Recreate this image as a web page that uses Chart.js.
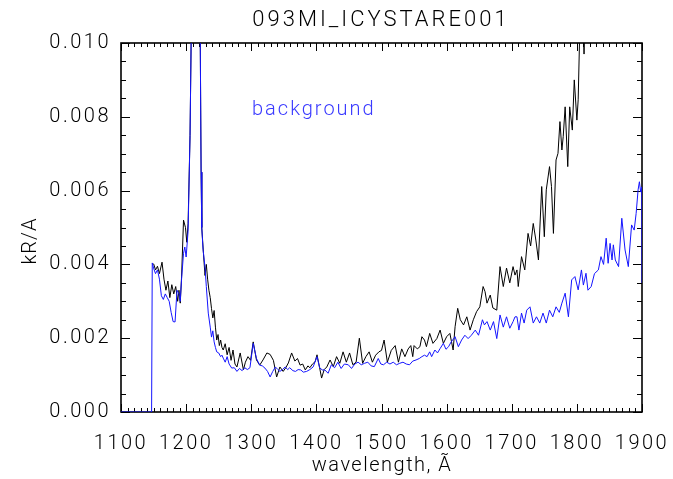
<!DOCTYPE html>
<html>
<head>
<meta charset="utf-8">
<script src="https://cdn.jsdelivr.net/npm/chart.js@4/dist/chart.umd.min.js"></script>
<style>
  html, body { margin: 0; padding: 0; background: #fff; }
  #wrap { width: 673px; height: 479px; }
</style>
</head>
<body>
<div id="wrap"><canvas id="spec"></canvas></div>
<script>
// 093MI_ICYSTARE001 spectrum vs background

const titleText = "093MI_ICYSTARE001";
const xTitle = "wavelength, \u00C3";
const yTitle = "kR/A";
const bgLabel = "background";

// observation (black), wavelength in A, brightness in kR/A
const obsWave = [
1150,1153,1156,1159,1163,1166,1169,1172,1175,1178,1181,1184,1187,1189,1191,1193,1196,1199,1201,1203,
1206,1209,1216,1221,1223,1224,1227,1229,1231,1233,1235,1237,1239,1241,1243,1245,1247,1249,1251,1253,
1255,1257,1260,1263,1266,1269,1272,1275,1278,1283,1288,1291,1295,1299,1303,1308,1313,1318,1324,1329,
1334,1339,1344,1349,1353,1357,1362,1367,1371,1375,1379,1383,1387,1390,1394,1398,1401,1405,1408,1412,
1416,1421,1426,1431,1436,1441,1446,1451,1456,1461,1466,1471,1476,1481,1486,1491,1496,1500,1504,1509,
1515,1521,1526,1531,1536,1541,1545,1548,1550,1555,1559,1562,1566,1569,1574,1579,1585,1590,1595,1600,
1605,1610,1613,1617,1621,1626,1631,1636,1641,1646,1651,1656,1659,1662,1667,1671,1677,1682,1687,1692,
1697,1702,1705,1708,1710,1715,1720,1725,1729,1733,1737,1741,1746,1750,1753,1758,1761,1764,1768,1771,
1774,1777,1779,1782,1786,1789,1793,1796,1800,1802,1805,1808,1811,1814,1820
];
const obsFlux = [
0.00402,0.00385,0.00395,0.00375,0.00406,0.00360,0.00330,0.00355,0.00310,0.00345,0.00320,0.00340,0.00300,0.00330,0.00295,0.00366,0.00520,0.00500,0.00460,0.00510,
0.00750,0.01200,0.03000,0.01200,0.00650,0.00500,0.00420,0.00370,0.00400,0.00360,0.00330,0.00310,0.00280,0.00255,0.00275,0.00230,0.00195,0.00210,0.00180,0.00195,
0.00175,0.00168,0.00185,0.00155,0.00175,0.00140,0.00168,0.00130,0.00122,0.00160,0.00114,0.00135,0.00150,0.00140,0.00190,0.00141,0.00127,0.00141,0.00160,0.00156,
0.00140,0.00095,0.00122,0.00110,0.00120,0.00133,0.00160,0.00138,0.00145,0.00127,0.00130,0.00114,0.00125,0.00120,0.00130,0.00136,0.00155,0.00120,0.00092,0.00115,
0.00122,0.00141,0.00123,0.00150,0.00132,0.00163,0.00135,0.00160,0.00128,0.00135,0.00200,0.00132,0.00150,0.00163,0.00135,0.00154,0.00163,0.00167,0.00195,0.00135,
0.00167,0.00180,0.00135,0.00171,0.00150,0.00171,0.00180,0.00150,0.00180,0.00171,0.00177,0.00204,0.00195,0.00177,0.00213,0.00186,0.00199,0.00222,0.00186,0.00204,
0.00213,0.00168,0.00231,0.00281,0.00250,0.00236,0.00258,0.00222,0.00250,0.00272,0.00285,0.00340,0.00326,0.00295,0.00317,0.00282,0.00276,0.00394,0.00340,0.00390,
0.00350,0.00394,0.00371,0.00385,0.00340,0.00421,0.00385,0.00484,0.00450,0.00511,0.00466,0.00412,0.00611,0.00475,0.00602,0.00665,0.00611,0.00484,0.00683,0.00701,
0.00787,0.00710,0.00746,0.00827,0.00665,0.00827,0.00764,0.00900,0.00791,0.00846,0.01080,0.01200,0.00970,0.01200,0.01300
];

// background (blue)
const bgWave = [
1100,1147,1148,1150,1153,1156,1159,1162,1165,1168,1171,1174,1177,1180,1183,1186,1189,1191,1193,1196,
1198,1200,1203,1206,1209,1216,1221,1223,1224,1226,1229,1231,1234,1237,1239,1241,1243,1245,1247,1250,
1253,1255,1257,1260,1263,1266,1270,1274,1278,1282,1286,1290,1294,1298,1303,1308,1313,1317,1321,1325,
1329,1333,1337,1341,1344,1348,1352,1356,1359,1364,1368,1372,1376,1380,1385,1390,1395,1401,1405,1409,
1413,1418,1423,1428,1433,1438,1443,1449,1454,1459,1464,1469,1474,1479,1484,1489,1495,1499,1503,1508,
1513,1518,1523,1528,1533,1538,1543,1548,1553,1558,1562,1566,1570,1574,1577,1582,1586,1590,1595,1599,
1603,1607,1613,1618,1623,1628,1633,1638,1644,1649,1655,1658,1662,1667,1672,1677,1682,1687,1692,1697,
1702,1705,1708,1711,1715,1719,1723,1728,1733,1738,1743,1748,1753,1758,1763,1768,1773,1777,1782,1787,
1792,1797,1802,1807,1810,1814,1817,1822,1827,1833,1837,1841,1845,1848,1851,1854,1856,1859,1864,1869,
1874,1879,1884,1888,1891,1894,1896,1898,1899.6,1900
];
const bgFlux = [
0.00000,0.00000,0.00404,0.00390,0.00375,0.00385,0.00360,0.00315,0.00305,0.00320,0.00310,0.00300,0.00270,0.00245,0.00244,0.00330,0.00320,0.00300,0.00360,0.00430,
0.00447,0.00420,0.00490,0.00750,0.01200,0.03500,0.01200,0.00650,0.00500,0.00440,0.00393,0.00340,0.00268,0.00230,0.00203,0.00220,0.00190,0.00175,0.00163,0.00160,
0.00150,0.00154,0.00146,0.00135,0.00150,0.00130,0.00119,0.00120,0.00110,0.00118,0.00112,0.00120,0.00115,0.00120,0.00186,0.00145,0.00127,0.00125,0.00119,0.00110,
0.00095,0.00110,0.00122,0.00115,0.00110,0.00115,0.00122,0.00115,0.00120,0.00112,0.00110,0.00115,0.00114,0.00108,0.00110,0.00115,0.00122,0.00150,0.00120,0.00114,
0.00114,0.00105,0.00128,0.00120,0.00135,0.00118,0.00130,0.00128,0.00118,0.00130,0.00135,0.00128,0.00132,0.00135,0.00125,0.00123,0.00145,0.00130,0.00128,0.00135,
0.00130,0.00135,0.00128,0.00132,0.00135,0.00130,0.00128,0.00138,0.00141,0.00145,0.00150,0.00154,0.00150,0.00163,0.00150,0.00168,0.00160,0.00172,0.00186,0.00170,
0.00177,0.00190,0.00204,0.00177,0.00195,0.00208,0.00199,0.00208,0.00222,0.00208,0.00250,0.00236,0.00245,0.00222,0.00245,0.00199,0.00263,0.00230,0.00258,0.00227,
0.00245,0.00258,0.00258,0.00222,0.00268,0.00241,0.00276,0.00285,0.00241,0.00258,0.00241,0.00268,0.00241,0.00276,0.00258,0.00285,0.00270,0.00295,0.00322,0.00258,
0.00358,0.00367,0.00331,0.00385,0.00344,0.00376,0.00330,0.00340,0.00375,0.00385,0.00421,0.00400,0.00471,0.00403,0.00457,0.00412,0.00453,0.00412,0.00394,0.00525,
0.00439,0.00394,0.00507,0.00493,0.00538,0.00602,0.00624,0.00596,0.00610,0.00350
];

// axis ticks
const xMin = 1100, xMax = 1900, xStep = 100, xMinor = 10;
const yMin = 0, yMax = 0.010, yStep = 0.002, yMinorCount = 20;

const FONT = "Roboto, 'DejaVu Sans', sans-serif";

const pts = (w, f) => w.map((v, i) => ({x: v, y: f[i]}));

// IDL-like box with inward ticks on all four sides
const frame = {
  id: 'frame',
  beforeDraw(chart) {
    // wide Hershey-style spacing for the tick labels
    chart.ctx.letterSpacing = '2.5px';
  },
  beforeDatasetsDraw(chart) {
    const {ctx, chartArea: a, scales: {x, y}} = chart;
    ctx.save();
    ctx.strokeStyle = '#000';
    ctx.lineWidth = 1;
    ctx.beginPath();
    for (let v = xMin; v <= xMax; v += xMinor) {
      const px = Math.round(x.getPixelForValue(v)) + 0.5;
      const len = v % xStep === 0 ? 8 : 4;
      ctx.moveTo(px, a.bottom); ctx.lineTo(px, a.bottom - len);
      ctx.moveTo(px, a.top); ctx.lineTo(px, a.top + len);
    }
    for (let k = 0; k <= yMinorCount; k++) {
      const v = yMin + k * (yMax - yMin) / yMinorCount;
      const py = Math.round(y.getPixelForValue(v)) + 0.5;
      const len = k % 4 === 0 ? 9 : 5;
      ctx.moveTo(a.left, py); ctx.lineTo(a.left + len, py);
      ctx.moveTo(a.right, py); ctx.lineTo(a.right - len, py);
    }
    ctx.stroke();
    ctx.lineWidth = 1.6;
    ctx.strokeRect(a.left, a.top, a.right - a.left, a.bottom - a.top);
    ctx.restore();
  },
  afterDatasetsDraw(chart) {
    const {ctx} = chart;
    ctx.save();
    ctx.fillStyle = '#000';
    ctx.textAlign = 'center';
    ctx.textBaseline = 'middle';
    ctx.letterSpacing = '3px';
    ctx.font = "300 22px " + FONT;
    ctx.fillText(titleText, 381, 20);
    ctx.letterSpacing = '1.5px';
    ctx.font = "300 20px " + FONT;
    ctx.fillText(xTitle, 382, 466);
    ctx.save();
    ctx.translate(31, 241);
    ctx.rotate(-Math.PI / 2);
    ctx.letterSpacing = '1px';
    ctx.fillText(yTitle, 0, 0);
    ctx.restore();

    ctx.fillStyle = '#3a3aff';
    ctx.textAlign = 'left';
    ctx.letterSpacing = '2px';
    ctx.font = "300 20px " + FONT;
    ctx.fillText(bgLabel, 252, 110);
    ctx.restore();
  }
};

new Chart(document.getElementById('spec'), {
  type: 'line',
  data: {
    datasets: [
      {
        label: 'background',
        data: pts(bgWave, bgFlux),
        borderColor: '#1414ff',
        borderWidth: 1,
        pointRadius: 0,
        tension: 0
      },
      {
        label: 'observation',
        data: pts(obsWave, obsFlux),
        borderColor: '#000000',
        borderWidth: 1,
        pointRadius: 0,
        tension: 0
      }
    ]
  },
  options: {
    responsive: true,
    maintainAspectRatio: false,
    animation: false,
    layout: { padding: { left: 0, right: 31, top: 43, bottom: 0 } },
    plugins: { legend: { display: false }, tooltip: { enabled: false }, title: { display: false } },
    scales: {
      x: {
        type: 'linear',
        min: xMin, max: xMax,
        grid: { display: false },
        border: { display: false },
        afterFit: s => { s.height = 67; s.paddingLeft = 0; s.paddingRight = 0; },
        ticks: {
          stepSize: xStep, padding: 12, color: '#000', maxRotation: 0,
          font: { family: FONT, size: 20, weight: 300 },
          callback: v => String(v)
        }
      },
      y: {
        min: yMin, max: yMax,
        grid: { display: false },
        border: { display: false },
        afterFit: s => { s.width = 121; s.paddingTop = 0; s.paddingBottom = 0; },
        ticks: {
          stepSize: yStep, padding: 2, color: '#000',
          font: { family: FONT, size: 20, weight: 300 },
          callback: v => v.toFixed(3)
        }
      }
    }
  },
  plugins: [frame]
});
</script>
</body>
</html>
